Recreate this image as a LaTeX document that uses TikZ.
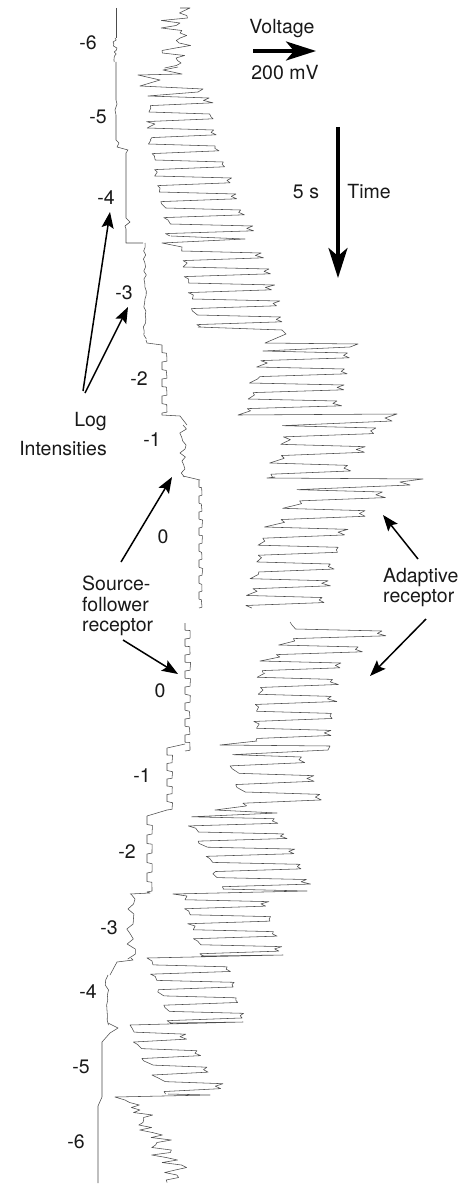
\documentclass[tikz,border=0pt]{standalone}
\usepackage{fontspec}
\setmainfont{TeX Gyre Heros}
\usetikzlibrary{arrows.meta}
\newcommand\tightls{\lineskiplimit=-30pt\relax}
\tikzset{
  trace/.style={draw=black!70, line width=0.55pt, line join=round},
  lbl/.style={font=\fontsize{19.5}{19}\selectfont, inner sep=0pt, text=black!90},
  bigarrow/.style={line width=3.4pt, -{Stealth[length=30pt,width=19pt,inset=8pt]}},
  thinarrow/.style={line width=1.5pt, -{Stealth[length=16pt,width=12pt,inset=3pt]}},
}
% adaptive receptor square-wave segment
% #1 y0, #2 y1, #3 cycles, #4 L0, #5 L1, #6 R0, #7 R1, #8 jitter, #9 prefix path
\newcommand\adseg[9]{%
  \pgfmathsetmacro\adh{(#2-#1)/(2*#3)}%
  \pgfmathtruncatemacro\adm{#3-1}%
  \pgfmathtruncatemacro\add{max(1,#3-1)}%
  \draw[trace] #9 \foreach \i in {0,...,\adm}{
    -- ({#4+(#5-#4)*\i/\add+#8*rand},{#1+2*\adh*\i+0.5*\adh})
    -- ({#6+(#7-#6)*\i/\add+#8*rand},{#1+2*\adh*\i+0.75*\adh})
    -- ({#6+(#7-#6)*\i/\add-4+#8*rand},{#1+2*\adh*\i+1.05*\adh})
    -- ({#6+(#7-#6)*\i/\add+1+#8*rand},{#1+2*\adh*\i+1.35*\adh})
    -- ({#4+(#5-#4)*\i/\add+#8*rand},{#1+2*\adh*\i+1.7*\adh})
    -- ({#4+(#5-#4)*\i/\add+3+#8*rand},{#1+2*\adh*\i+2*\adh})
  };}
% noisy segment: #1 y0, #2 y1, #3 c0, #4 c1, #5 amp, #6 step, #7 prefix
\newcommand\noiseg[7]{%
  \pgfmathtruncatemacro\nzn{round((#2-#1)/#6)}%
  \draw[trace] #7 \foreach \i in {1,...,\nzn}{
    -- ({#3+(#4-#3)*\i/\nzn+#5*rand},{#1+#6*\i})
  };}
% source follower square bumps: #1 y0, #2 y1, #3 x0, #4 amp, #5 half period
\newcommand\sqseg[5]{%
  \pgfmathtruncatemacro\sqn{max(1,round((#2-#1)/(2*#5)))}%
  \draw[trace] (#3,#1) \foreach \i in {1,...,\sqn}{
     -- ({#3},{#1+2*#5*(\i-1)+0.9*#5})
     -- ({#3+#4+0.8*rand},{#1+2*#5*(\i-1)+#5+0.6*rand})
     -- ({#3+#4},{#1+2*#5*(\i-1)+1.9*#5})
     -- ({#3},{#1+2*#5*\i})
  };}
% source follower wiggles: #1 y0, #2 y1, #3 x0, #4 amp, #5 step
\newcommand\wigseg[5]{%
  \pgfmathtruncatemacro\wgn{round((#2-#1)/#5)}%
  \draw[trace] (#3,#1) \foreach \i in {1,...,\wgn}{ -- ({#3+#4*rand},{#1+#5*\i}) };}
\begin{document}
\begin{tikzpicture}[x=1pt,y=-1pt]
\pgfmathsetseed{4217}
\useasboundingbox[fill=white] (0,0) rectangle (468,1185);

% ---------------- source-follower trace (top recording)
\draw[trace] (116,8) -- (116,38);
\wigseg{38}{62}{115}{2}{2}
\draw[trace] (116,62) -- (116,100) -- (117,104) -- (115,110) -- (116,115) -- (116,140) -- (119,143) -- (117,147) -- (128,150) -- (126,153) -- (126,218) -- (130,222) -- (125,226) -- (126,229) -- (126,243) -- (143,243);
\wigseg{243}{340}{145}{1.8}{4}
\draw[trace] (146,340) -- (147,343) -- (162,345);
\sqseg{345}{413}{162}{5}{8.5}
\draw[trace] (162,413) -- (162,415) -- (180,416) -- (187,425);
\wigseg{425}{476}{183}{4}{4}
\draw[trace] (183,476) -- (200,480);
\sqseg{480}{608}{199}{3}{8}

% ---------------- source-follower trace (bottom recording)
\sqseg{623}{744}{185}{5}{8}
\draw[trace] (185,744) -- (167,748);
\sqseg{748}{810}{167}{5}{7.75}
\draw[trace] (167,810) -- (147,816);
\sqseg{816}{892}{147}{5}{9.5}
\draw[trace] (147,892) -- (150,893) -- (130,894);
\wigseg{894}{958}{131}{4.5}{5}
\draw[trace] (131,958) -- (133,960) -- (117,962) -- (110,975);
\wigseg{975}{1023}{108}{3}{5}
\draw[trace] (108,1023) -- (118,1028) -- (110,1033) -- (102,1042) -- (102,1097) -- (98,1106) -- (98,1183);

% ---------------- adaptive receptor trace (top recording)
\noiseg{8}{67}{174}{178}{15}{2.5}{(180,8) -- (190,8)}
\draw[trace] (178,67) -- (163,70) -- (182,74) -- (138,75) -- (160,80) -- (140,86) -- (203,89) -- (198,92);
\adseg{92}{140}{3}{148}{150}{210}{214}{3}{(198,92)}
\adseg{140}{236}{6}{150}{168}{217}{250}{3}{(151,140)}
\adseg{247}{327}{5}{182}{195}{262}{282}{3}{(171,236) -- (245,239) -- (162,243) -- (182,247)}
\adseg{347}{411}{4}{262}{247}{350}{338}{3}{(198,327) -- (282,330) -- (286,334) -- (265,343) -- (358,344) -- (350,347)}
\adseg{421}{477}{3}{285}{272}{375}{350}{3}{(250,411) -- (238,415) -- (397,414) -- (385,418) -- (392,421)}
\adseg{485}{541}{3}{300}{262}{382}{345}{3}{(275,477) -- (267,478) -- (423,479) -- (400,482) -- (410,485)}
\adseg{541}{608}{4}{260}{248}{338}{322}{3}{(265,541)}

% ---------------- adaptive receptor trace (bottom recording)
\adseg{625}{673}{3}{293}{262}{382}{338}{3}{(290,622) -- (292,625)}
\adseg{673}{741}{4}{258}{254}{335}{330}{3}{(265,673)}
\adseg{750}{806}{3}{230}{243}{302}{320}{3}{(257,741) -- (220,745) -- (330,746) -- (328,750)}
\adseg{813}{889}{5}{190}{220}{277}{307}{3}{(246,806) -- (215,810) -- (277,813)}
\adseg{896}{956}{4}{187}{198}{267}{280}{3}{(223,889) -- (307,891) -- (173,894) -- (187,896)}
\adseg{961}{1023}{4}{152}{167}{228}{243}{3}{(201,956) -- (283,955) -- (147,958) -- (152,961)}
\adseg{1028}{1094}{4}{132}{165}{187}{220}{3}{(170,1023) -- (243,1022) -- (130,1025) -- (132,1028)}
\noiseg{1100}{1182}{136}{180}{15}{2.5}{(168,1094) -- (210,1095) -- (115,1097) -- (125,1100)}

% ---------------- intensity labels
\node[lbl,anchor=base] (t6) at (88,49.5) {-6};
\node[lbl,anchor=base] (t5) at (98,123.5) {-5};
\node[lbl,anchor=base] (t4) at (106,204.5) {-4};
\node[lbl,anchor=base] (t3) at (124,299.5) {-3};
\node[lbl,anchor=base] (t2) at (139,385.5) {-2};
\node[lbl,anchor=base] (t1) at (152,446.5) {-1};
\node[lbl,anchor=base] (t0) at (163,543.5) {0};
\node[lbl,anchor=base] (b0) at (160,697.5) {0};
\node[lbl,anchor=base] (b1) at (142,782.5) {-1};
\node[lbl,anchor=base] (b2) at (127,858.5) {-2};
\node[lbl,anchor=base] (b3) at (109,934.5) {-3};
\node[lbl,anchor=base] (b4) at (88,998.5) {-4};
\node[lbl,anchor=base] (b5) at (81,1073.5) {-5};
\node[lbl,anchor=base] (b6) at (76,1148.5) {-6};

% ---------------- scale bars
\node[lbl,anchor=base] (volt) at (282,34) {Voltage};
\node[lbl,anchor=base] (mv) at (285,80) {200 mV};
\coordinate (va) at (253,51);
\coordinate (vb) at (316,51);
\draw[bigarrow] (va) -- (vb);
\node[lbl,anchor=base] (fs) at (306,198) {5 s};
\node[lbl,anchor=base] (time) at (369,198) {Time};
\coordinate (ta) at (338,127);
\coordinate (tb) at (338,278);
\draw[bigarrow] (ta) -- (tb);

% ---------------- annotations
\node[lbl,anchor=north east,align=right,font=\fontsize{19.5}{29}\selectfont\tightls] (log) at (107,412) {Log\\Intensities};
\coordinate (logA) at (83,391);
\coordinate (logB) at (85,393);
\coordinate (tip4) at (110,212);
\coordinate (tip3) at (128,307);
\draw[thinarrow] (logA) -- (tip4);
\draw[thinarrow] (logB) -- (tip3);

\node[lbl,anchor=north west,align=left,font=\fontsize{19.5}{20.5}\selectfont\tightls] (sf) at (82,576) {Source-\\follower\\receptor};
\coordinate (sfA) at (121,562);
\coordinate (sfTip1) at (172,477);
\coordinate (sfB) at (123,640);
\coordinate (sfTip2) at (178,674);
\draw[thinarrow] (sfA) -- (sfTip1);
\draw[thinarrow] (sfB) -- (sfTip2);

\node[lbl,anchor=north west,align=left,font=\fontsize{19.5}{20.5}\selectfont\tightls] (ad) at (383,568) {Adaptive\\receptor};
\coordinate (adA) at (418,559);
\coordinate (adTip1) at (383,515);
\coordinate (adB) at (426,619);
\coordinate (adTip2) at (370,676);
\draw[thinarrow] (adA) -- (adTip1);
\draw[thinarrow] (adB) -- (adTip2);
\end{tikzpicture}
\end{document}
